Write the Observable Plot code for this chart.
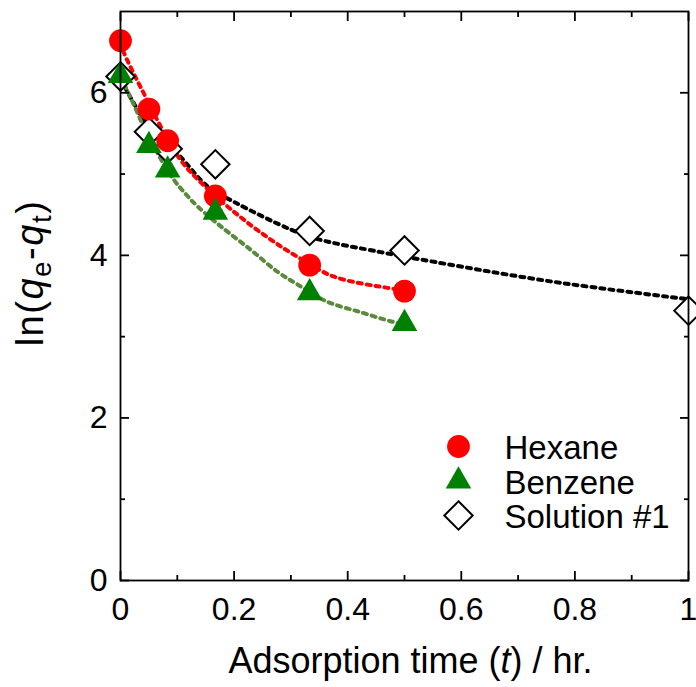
<!DOCTYPE html>
<html><head><meta charset="utf-8">
<script src="https://cdn.jsdelivr.net/npm/d3@7"></script>
<script src="https://cdn.jsdelivr.net/npm/@observablehq/plot@0.6"></script>
<style>
body{margin:0;background:#fff;}
svg{font-family:"Liberation Sans", Arial, Helvetica, sans-serif;}
</style>
</head><body><div id="chart"></div>
<script>
// ---- data ----
const timeHr = [0, 0.05, 0.083, 0.167, 0.333, 0.5];
const hexaneLn = [6.64, 5.80, 5.41, 4.73, 3.88, 3.56];
const benzeneLn = [6.21, 5.35, 5.05, 4.53, 3.54, 3.16];
const solutionTime = [0, 0.05, 0.083, 0.167, 0.333, 0.5, 1.0];
const solutionLn = [6.20, 5.52, 5.31, 5.12, 4.30, 4.06, 3.32];

// fitted (dotted) curves
const hexaneFitX = [0, 0.005, 0.039, 0.102, 0.141, 0.199, 0.259, 0.312, 0.375, 0.47, 0.5];
const hexaneFitY = [6.62, 6.51, 6.02, 5.21, 4.90, 4.54, 4.22, 3.98, 3.74, 3.60, 3.57];
const benzeneFitX = [0, 0.009, 0.023, 0.05, 0.093, 0.118, 0.136, 0.176, 0.229, 0.276, 0.312, 0.364, 0.423, 0.475, 0.5];
const benzeneFitY = [6.2, 6.07, 5.86, 5.45, 4.94, 4.73, 4.60, 4.36, 4.07, 3.80, 3.64, 3.43, 3.30, 3.19, 3.15];
const solutionFitX = [0, 0.021, 0.05, 0.083, 0.106, 0.153, 0.202, 0.299, 0.347, 0.458, 0.528, 0.757, 1.0];
const solutionFitY = [6.17, 5.90, 5.58, 5.37, 5.21, 4.85, 4.65, 4.32, 4.20, 4.04, 3.95, 3.68, 3.46];

const xTicks = [0, 0.2, 0.4, 0.6, 0.8, 1];
const xTickLabels = ["0", "0.2", "0.4", "0.6", "0.8", "1"];
const xMinorTicks = [0.1, 0.3, 0.5, 0.7, 0.9];
const yTicks = [0, 2, 4, 6];
const yTickLabels = ["0", "2", "4", "6"];
const yMinorTicks = [1, 3, 5];

const legendLabels = ["Hexane", "Benzene", "Solution #1"];
const xTitle = "Adsorption time (t) / hr.";
const yTitle = "ln(qe-qt)";

// ---- build tables ----
const pts = (xs, ys) => xs.map((x, i) => ({x, y: ys[i]}));
const hexane = pts(timeHr, hexaneLn);
const benzene = pts(timeHr, benzeneLn);
const solution = pts(solutionTime, solutionLn);
const hexaneFit = pts(hexaneFitX, hexaneFitY);
const benzeneFit = pts(benzeneFitX, benzeneFitY);
const solutionFit = pts(solutionFitX, solutionFitY);

const RED = "#ff0000", GREEN = "#008000", OLIVE = "#5b8a3c";
const dash = "4,5";
const lineW = 4;
const styles = [
  {r: 11.4, symbol: "circle", fill: RED, stroke: "none"},
  {r: 9.5, symbol: "triangle", fill: GREEN, stroke: "none"},
  {r: 12.8, symbol: "diamond2", fill: "white", stroke: "black", strokeWidth: 2}
];

const legendMarks = [];
legendLabels.forEach((lab, i) => {
  const dy = -134 + i * 34.5;
  legendMarks.push(Plot.dot([lab], {frameAnchor: "bottom-right", dx: -230, dy, ...styles[i]}));
  legendMarks.push(Plot.text([lab], {frameAnchor: "bottom-right", dx: -184, dy: dy + 2, text: d => d,
    textAnchor: "start", lineAnchor: "middle", fontSize: 33, fill: "black"}));
});

const tickStroke = {stroke: "black", strokeWidth: 1.8, label: null, text: null};

const chart = Plot.plot({
  width: 696, height: 687,
  marginLeft: 120, marginRight: 8, marginTop: 11, marginBottom: 107,
  x: {domain: [0, 1]},
  y: {domain: [0, 7]},
  style: {background: "white", color: "black", fontFamily: "'Liberation Sans', Arial, sans-serif"},
  marks: [
    // fitted curves
    Plot.line(solutionFit, {x: "x", y: "y", curve: "catmull-rom", stroke: "black", strokeWidth: lineW, strokeDasharray: dash}),
    Plot.line(hexaneFit, {x: "x", y: "y", curve: "catmull-rom", stroke: RED, strokeWidth: lineW, strokeDasharray: dash}),
    Plot.line(benzeneFit, {x: "x", y: "y", curve: "catmull-rom", stroke: OLIVE, strokeWidth: lineW, strokeDasharray: dash}),
    // data
    Plot.dot(solution, {x: "x", y: "y", ...styles[2]}),
    Plot.dot(hexane, {x: "x", y: "y", ...styles[0]}),
    Plot.dot(benzene, {x: "x", y: "y", ...styles[1]}),
    // frame & axes
    Plot.frame({stroke: "black", strokeWidth: 1.8}),
    Plot.axisX(xTicks, {anchor: "bottom", tickSize: 0, tickPadding: 17, fontSize: 32, label: null,
      tickFormat: (d) => xTickLabels[xTicks.indexOf(d)]}),
    Plot.axisY(yTicks, {anchor: "left", tickSize: 0, tickPadding: 13, fontSize: 32, label: null,
      tickFormat: (d) => yTickLabels[yTicks.indexOf(d)]}),
    Plot.axisX(xTicks, {anchor: "bottom", tickSize: -9, ...tickStroke}),
    Plot.axisX(xMinorTicks, {anchor: "bottom", tickSize: -5, ...tickStroke}),
    Plot.axisX(xTicks, {anchor: "top", tickSize: -9, ...tickStroke}),
    Plot.axisX(xMinorTicks, {anchor: "top", tickSize: -5, ...tickStroke}),
    Plot.axisY(yTicks, {anchor: "left", tickSize: -9, ...tickStroke}),
    Plot.axisY(yMinorTicks, {anchor: "left", tickSize: -5, ...tickStroke}),
    Plot.axisY(yTicks, {anchor: "right", tickSize: -9, ...tickStroke}),
    Plot.axisY(yMinorTicks, {anchor: "right", tickSize: -5, ...tickStroke}),
    // titles
    Plot.text([xTitle], {frameAnchor: "bottom", dx: 6, dy: 81, text: d => d, fontSize: 36, textAnchor: "middle", lineAnchor: "middle", fill: "black"}),
    Plot.text([yTitle], {frameAnchor: "left", dx: -90, dy: -23, rotate: -90, text: d => d, fontSize: 38, textAnchor: "middle", lineAnchor: "middle", fill: "black"}),
    ...legendMarks
  ]
});
document.getElementById("chart").appendChild(chart);

// rich text for the axis titles (italic symbols, subscripts)
d3.select(chart).selectAll("text").each(function() {
  const t = d3.select(this);
  const s = this.textContent;
  if (s === xTitle) {
    t.text(null);
    t.append("tspan").text("Adsorption time (");
    t.append("tspan").attr("font-style", "italic").text("t");
    t.append("tspan").text(") / hr.");
  } else if (s === yTitle) {
    t.text(null);
    t.attr("letter-spacing", "1.5");
    t.append("tspan").text("ln(");
    t.append("tspan").attr("font-style", "italic").text("q");
    t.append("tspan").attr("font-size", "28").attr("dy", "8").text("e");
    t.append("tspan").attr("dy", "-8").text("-");
    t.append("tspan").attr("font-style", "italic").text("q");
    t.append("tspan").attr("font-size", "28").attr("dy", "8").text("t");
    t.append("tspan").attr("dy", "-8").text(")");
  }
});
</script>
</body></html>
